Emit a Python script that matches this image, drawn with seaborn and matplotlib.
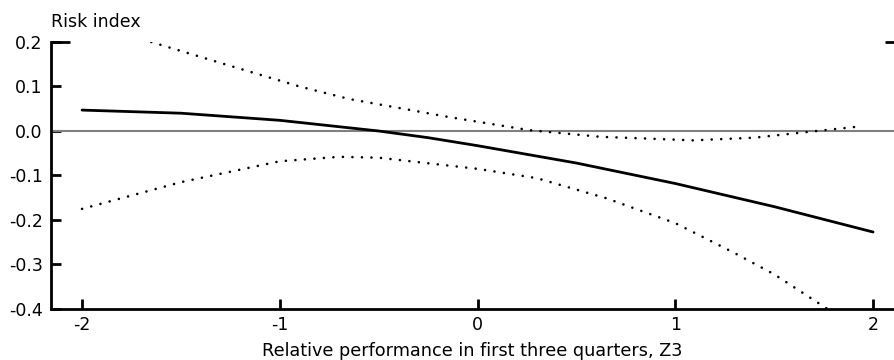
import matplotlib
matplotlib.use("Agg")
import matplotlib.pyplot as plt
import seaborn as sns

# Data
solid_x = [-2.0, -1.5, -1.0, -0.75, -0.5, -0.25, 0.0, 0.5, 1.0, 1.5, 2.0]
solid_y = [0.047, 0.040, 0.024, 0.012, 0.0, -0.015, -0.033, -0.072, -0.118, -0.170, -0.227]

upper_x = [-1.65, -1.3, -0.9, -0.65, -0.4, -0.14, 0.26, 0.62, 1.09, 1.4, 1.63, 1.95]
upper_y = [0.200, 0.153, 0.100, 0.072, 0.052, 0.031, 0.002, -0.013, -0.021, -0.015, -0.004, 0.011]

lower_x = [-2.0, -1.5, -1.0, -0.7, -0.5, 0.0, 0.3, 0.65, 1.0, 1.29, 1.5, 1.77]
lower_y = [-0.175, -0.115, -0.068, -0.058, -0.060, -0.085, -0.106, -0.151, -0.207, -0.272, -0.322, -0.400]

xticks = [-2, -1, 0, 1, 2]
yticks = [-0.4, -0.3, -0.2, -0.1, 0.0, 0.1, 0.2]
ytick_labels = ["-0.4", "-0.3", "-0.2", "-0.1", "0.0", "0.1", "0.2"]

sns.set_style("ticks")
plt.rcParams['font.family'] = ['DejaVu Sans']
plt.rcParams['text.color'] = 'black'
plt.rcParams['axes.labelcolor'] = 'black'

fig = plt.figure(figsize=(8.94, 3.6), dpi=100)
ax = fig.add_axes([51/894, 1 - 309/360, 1 - 51/894, (309 - 42)/360])

ax.axhline(0, color="#808080", lw=1.5, zorder=1)

sns.lineplot(x=solid_x, y=solid_y, ax=ax, color="black", lw=2, zorder=3)
sns.lineplot(x=upper_x, y=upper_y, ax=ax, color="black", lw=1.9, zorder=3)
sns.lineplot(x=lower_x, y=lower_y, ax=ax, color="black", lw=1.9, zorder=3)
for ln in ax.lines[2:4]:
    ln.set_linestyle((0, (0.01, 3.6)))
    ln.set_dash_capstyle("round")

ax.set_xlim(-2.157, 2.106)
ax.set_ylim(-0.4, 0.2)
ax.set_xticks(xticks)
ax.set_xticklabels([str(t) for t in xticks])
ax.set_yticks(yticks)
ax.set_yticklabels(ytick_labels)

for s in ["top", "right"]:
    ax.spines[s].set_visible(False)
for s in ["left", "bottom"]:
    ax.spines[s].set_linewidth(2)
    ax.spines[s].set_color("black")

ax.tick_params(axis="both", direction="in", length=7, width=2, colors="black",
               labelcolor="black", labelsize=12.5)
ax.tick_params(axis="y", pad=6)
ax.tick_params(axis="x", pad=5)

# short corner marks at the top
ax.plot([0, 19/843], [1, 1], transform=ax.transAxes, color="black", lw=2,
        clip_on=False, solid_capstyle="butt")
ax.plot([834/843, 1], [1, 1], transform=ax.transAxes, color="black", lw=2,
        clip_on=False, solid_capstyle="butt")

ax.set_xlabel("Relative performance in first three quarters, Z3", fontsize=12.7,
              labelpad=6, color="black")
ax.set_ylabel("")
fig.text(51/894, 1 - 22/360, "Risk index", fontsize=12.5, ha="left", va="center",
         color="black")

fig.savefig("out.png", dpi=100)
